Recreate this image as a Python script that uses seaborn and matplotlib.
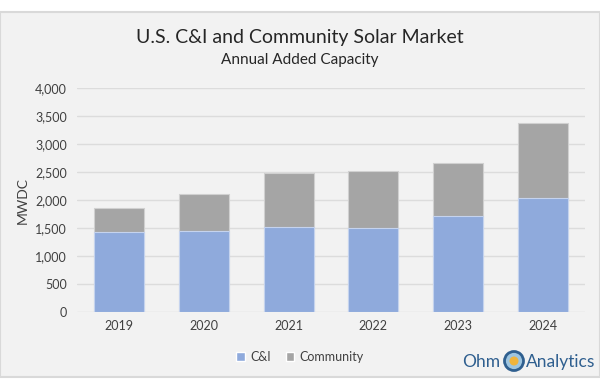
import pandas as pd
import numpy as np
import matplotlib.pyplot as plt
import seaborn as sns
from matplotlib.patches import Rectangle, Circle, Patch

years = ['2019', '2020', '2021', '2022', '2023', '2024']
ci = [1430, 1450, 1520, 1505, 1718, 2040]
community = [435, 660, 960, 1020, 950, 1330]
ticks = [0, 500, 1000, 1500, 2000, 2500, 3000, 3500, 4000]

df = pd.DataFrame({'year': years, 'ci': ci, 'community': community})
df['total'] = df['ci'] + df['community']

sns.set_style('white')
plt.rcParams['font.family'] = ['Lato', 'DejaVu Sans']

bg = '#f2f2f2'
fig = plt.figure(figsize=(6, 3.83), dpi=100, facecolor='white')
# grey chart panel behind everything
fig.patches.append(Rectangle((0.0, 0.016), 1.0, 0.953, transform=fig.transFigure,
                             facecolor=bg, edgecolor='#d9d9d9', linewidth=1.5, zorder=-5))

ax = fig.add_axes([0.128, 0.185, 0.847, 0.585])
ax.set_facecolor(bg)

sns.barplot(x='year', y='total', data=df, color='#a5a5a5', width=0.59,
            edgecolor='#d0d0d0', linewidth=0.8, saturation=1, ax=ax, zorder=3)
sns.barplot(x='year', y='ci', data=df, color='#8faadc', width=0.59,
            edgecolor='#c5d3ee', linewidth=0.8, saturation=1, ax=ax, zorder=4)

ax.set_ylim(0, 4000)
ax.set_xlim(-0.5, 5.5)
ax.set_yticks(ticks)
ax.set_yticklabels([f'{t:,}' for t in ticks], fontsize=9, color='#404040')
ax.tick_params(axis='x', labelsize=9, colors='#404040', length=0, pad=6)
ax.tick_params(axis='y', length=0, pad=7)
ax.grid(axis='y', color='#dcdcdc', linewidth=1, zorder=0)
ax.set_axisbelow(True)
for s in ax.spines.values():
    s.set_visible(False)
ax.set_xlabel('')
ax.set_ylabel('MWDC', fontsize=10, color='#404040', labelpad=5)

fig.text(0.5, 0.903, 'U.S. C&I and Community Solar Market', ha='center', va='center',
         fontsize=14, color='#262626')
fig.text(0.5, 0.843, 'Annual Added Capacity', ha='center', va='center',
         fontsize=11, color='#262626')

handles = [Patch(facecolor='#8faadc', label='C&I'), Patch(facecolor='#a5a5a5', label='Community')]
fig.legend(handles=handles, loc='center', bbox_to_anchor=(0.5, 0.068), ncol=2, frameon=False,
           fontsize=9, handlelength=0.7, handleheight=0.7, handletextpad=0.4,
           columnspacing=1.2, labelcolor='#404040')

# logo
logo_col = '#2f5f8f'
fig.text(0.770, 0.055, 'Ohm', ha='left', va='center', fontsize=12.5, color=logo_col)
fig.patches.append(Circle((514, 22), 9.5, transform=None,
                          facecolor='#9ec5e0', edgecolor=logo_col, linewidth=2, zorder=5))
fig.patches.append(Circle((514, 22), 4.5, transform=None,
                          facecolor='#f0b43c', edgecolor='none', zorder=6))
fig.text(0.992, 0.055, 'Analytics', ha='right', va='center', fontsize=12.5, color=logo_col)

fig.savefig('out.png', dpi=100, facecolor=fig.get_facecolor())
